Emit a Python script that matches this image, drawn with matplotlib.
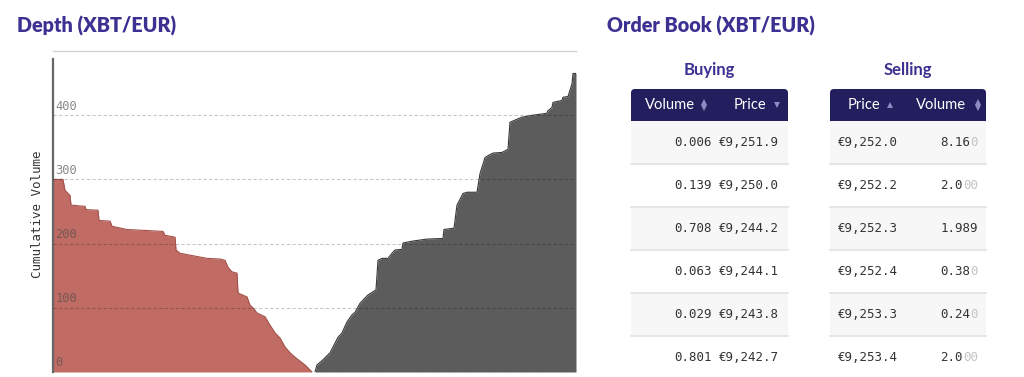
import matplotlib.pyplot as plt
from matplotlib.patches import Rectangle, FancyBboxPatch

# depth curve (price in EUR, cumulative volume in XBT)
bid_price = [9173.7, 9176.7, 9177.3, 9178.8, 9179.1, 9183.3, 9183.6, 9187.2, 9187.5,
             9190.8, 9191.4, 9195.9, 9206.7, 9207.3, 9210.3, 9210.6, 9211.8, 9214.8,
             9219.9, 9223.8, 9225.3, 9226.2, 9227.4, 9228.9, 9229.2, 9231.9, 9232.8,
             9233.7, 9234.9, 9237.3, 9238.8, 9240.3, 9241.8, 9243.3, 9244.8, 9246.3,
             9247.8, 9249.3, 9251.4]
bid_volume = [300, 300, 283, 275, 260, 258, 253, 252, 236,
              235, 227, 222, 219, 213, 210, 190, 185, 182,
              177, 176, 174, 163, 156, 154, 123, 117, 104,
              100, 92, 86, 73, 61, 53, 39, 30, 23,
              17, 11, 0]
ask_price = [9252.3, 9252.9, 9254.7, 9256.8, 9258.3, 9259.2, 9260.4, 9261.9, 9263.4,
             9264.3, 9265.8, 9266.7, 9268.2, 9269.4, 9270.6, 9271.2, 9272.4, 9274.2,
             9275.4, 9276.3, 9278.4, 9278.7, 9281.7, 9285.9, 9290.7, 9291.0, 9294.0,
             9294.9, 9296.7, 9297.9, 9300.9, 9301.8, 9303.3, 9304.2, 9305.7, 9308.4,
             9310.2, 9310.8, 9314.4, 9317.7, 9321.9, 9322.2, 9323.4, 9323.7, 9326.4,
             9326.7, 9328.2, 9328.8, 9329.4, 9329.7, 9330.6]
ask_volume = [0, 11, 19, 30, 45, 54, 61, 78, 89,
              93, 107, 112, 120, 124, 128, 174, 177, 177,
              185, 190, 191, 201, 204, 207, 208, 222, 224,
              260, 278, 280, 280, 309, 334, 337, 341, 342,
              347, 389, 397, 400, 403, 407, 412, 420, 423,
              428, 429, 439, 449, 465, 465]
y_ticks = [0, 100, 200, 300, 400]

# order book table
buy_volumes = ["0.006", "0.139", "0.708", "0.063", "0.029", "0.801"]
buy_prices = ["€9,251.9", "€9,250.0", "€9,244.2", "€9,244.1", "€9,243.8", "€9,242.7"]
sell_prices = ["€9,252.0", "€9,252.2", "€9,252.3", "€9,252.4", "€9,253.3", "€9,253.4"]
sell_volumes = ["8.160", "2.000", "1.989", "0.380", "0.240", "2.000"]

PURPLE = "#3b3192"
NAVY = "#231f5e"
MONO = "DejaVu Sans Mono"
SANS = "Lato"

W, H = 1024, 377
fig = plt.figure(figsize=(W / 100, H / 100), dpi=100)

# overlay in pixel coordinates for titles and the table
lay = fig.add_axes([0, 0, 1, 1])
lay.set_xlim(0, W)
lay.set_ylim(H, 0)
lay.axis("off")

# ---- depth chart ----
x0, x1, ytop, ybot = 53, 576, 51, 372
ax = fig.add_axes([x0 / W, (H - ybot) / H, (x1 - x0) / W, (ybot - ytop) / H])
ax.fill_between(bid_price, bid_volume, 0, color="#c06c64", lw=0)
ax.plot(bid_price, bid_volume, color="#a4524b", lw=0.8)
ax.fill_between(ask_price, ask_volume, 0, color="#5c5c5c", lw=0)
ax.plot(ask_price, ask_volume, color="#363636", lw=0.8)
ax.set_xlim(bid_price[0], ask_price[-1])
ax.set_ylim(0, 500)
for v in y_ticks:
    ax.axhline(v, color=(0, 0, 0, 0.22), lw=0.8, ls=(0, (3, 2)), zorder=5)
    ax.text(0.004, v + 4, str(v), transform=ax.get_yaxis_transform(), family=MONO,
            fontsize=8.7, color=(0.3, 0.3, 0.3, 0.65), ha="left", va="bottom", zorder=6)
ax.set_xticks([])
ax.set_yticks([])
ax.spines["right"].set_visible(False)
ax.spines["bottom"].set_visible(False)
ax.spines["top"].set_color("#d2d2d2")
ax.spines["top"].set_linewidth(1.0)
ax.spines["left"].set_color("#666666")
ax.spines["left"].set_linewidth(1.6)
ax.spines["left"].set_bounds(0, 487)
ax.set_ylabel("Cumulative Volume", family=MONO, fontsize=9, color="#333333")
ax.yaxis.set_label_coords(-0.018, 0.49)

lay.text(17, 26, "Depth (XBT/EUR)", family=SANS, weight="heavy", fontsize=14.2,
         color=PURPLE, ha="left", va="center")
lay.text(607, 26, "Order Book (XBT/EUR)", family=SANS, weight="heavy", fontsize=14.2,
         color=PURPLE, ha="left", va="center")

# ---- order book tables ----
head_top, head_bot, row_h = 89, 121, 43
cw = 0.602 * 9 * 100 / 72  # monospace char advance in px


def sort_icon(x, y, kind):
    c = "#8f8ac2"
    if kind in ("both", "up"):
        lay.plot(x, y - (2.6 if kind == "both" else 0), marker="^", ms=4.4, color=c, mew=0)
    if kind in ("both", "down"):
        lay.plot(x, y + (2.6 if kind == "both" else 0), marker="v", ms=4.4, color=c, mew=0)


def table(left, right, title, cols):
    lay.text((left + right) / 2, 70, title, family=SANS, weight="bold", fontsize=12,
             color=PURPLE, ha="center", va="center")
    lay.add_patch(FancyBboxPatch((left, head_top), right - left, head_bot - head_top,
                                 boxstyle="round,pad=0,rounding_size=4", color=NAVY, lw=0))
    lay.add_patch(Rectangle((left, head_top + 6), right - left, head_bot - head_top - 6,
                            color=NAVY, lw=0))
    for label, lx, icon, ix in cols:
        lay.text(lx, 105, label, family=SANS, fontsize=10.6, color="white",
                 ha="left", va="center")
        sort_icon(ix, 105, icon)
    for i in range(6):
        top = head_bot + i * row_h
        if i % 2 == 0:
            lay.add_patch(Rectangle((left, top), right - left, row_h, color="#f7f7f7", lw=0))
        if i < 5:
            lay.plot([left, right], [top + row_h, top + row_h], color="#e2e2e2", lw=1.2)


table(631, 788, "Buying", [("Volume", 645, "both", 704), ("Price", 734, "down", 777)])
table(830, 986, "Selling", [("Price", 848, "up", 890), ("Volume", 916, "both", 978)])

for i in range(6):
    yc = head_bot + i * row_h + row_h / 2
    lay.text(712, yc, buy_volumes[i], family=MONO, fontsize=9, color="#333333",
             ha="right", va="center")
    lay.text(779, yc, buy_prices[i], family=MONO, fontsize=9, color="#333333",
             ha="right", va="center")
    lay.text(838, yc, sell_prices[i], family=MONO, fontsize=9, color="#333333",
             ha="left", va="center")
    # significant digits dark, trailing zeros faded
    vol = sell_volumes[i]
    dark = vol.rstrip("0")
    if dark.endswith("."):
        dark += "0"
    light = vol[len(dark):]
    if light:
        lay.text(978, yc, light, family=MONO, fontsize=9, color="#c4c4c4",
                 ha="right", va="center")
    lay.text(978 - len(light) * cw, yc, dark, family=MONO, fontsize=9, color="#333333",
             ha="right", va="center")

fig.savefig("out.png", dpi=100)
